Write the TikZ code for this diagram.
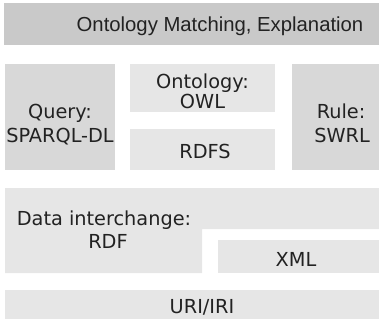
\documentclass[tikz,border=0pt]{standalone}
\usepackage{fontspec}
\setmainfont{DejaVu Sans}
\newfontfamily\arialfont{Liberation Sans}
\begin{document}
\begin{tikzpicture}[x=1pt,y=-1pt]
\definecolor{boxdark}{HTML}{C9C9C9}
\definecolor{boxmid}{HTML}{D8D8D8}
\definecolor{boxlight}{HTML}{E6E6E6}
\definecolor{txt}{HTML}{222222}
\tikzset{
  lbl/.style={inner sep=0pt, anchor=base, text=txt, font=\fontsize{19.3}{24}\selectfont},
  toplbl/.style={inner sep=0pt, anchor=base, text=txt, font=\arialfont\fontsize{20.3}{24}\selectfont}
}
\useasboundingbox (0,0) rectangle (379,322);
% boxes
\fill[boxdark] (4,3) rectangle (379,45);
\fill[boxmid] (5,64) rectangle (115,170);
\fill[boxlight] (130,64) rectangle (275,112);
\fill[boxlight] (130,128.5) rectangle (275,169.5);
\fill[boxmid] (292,64) rectangle (379,170);
\fill[boxlight] (5,188) -- (379,188) -- (379,229) -- (202,229) -- (202,273) -- (5,273) -- cycle;
\fill[boxlight] (217.5,240) rectangle (379,273);
\fill[boxlight] (5,290) rectangle (379,318.5);
% texts
\node[toplbl] (top) at (220,31) {Ontology Matching, Explanation};
\node[lbl] (q1) at (60,118) {Query:};
\node[lbl] (q2) at (60,142) {SPARQL-DL};
\node[lbl] (o1) at (202.5,88) {Ontology:};
\node[lbl] (o2) at (202.5,108.5) {OWL};
\node[lbl] (rdfs) at (205,158) {RDFS};
\node[lbl] (r1) at (341,118) {Rule:};
\node[lbl] (r2) at (342,142) {SWRL};
\node[lbl] (d1) at (104,225) {Data interchange:};
\node[lbl] (d2) at (108,248.5) {RDF};
\node[lbl] (xml) at (296,266.5) {XML};
\node[lbl] (uri) at (202,313) {URI/IRI};
\end{tikzpicture}
\end{document}
